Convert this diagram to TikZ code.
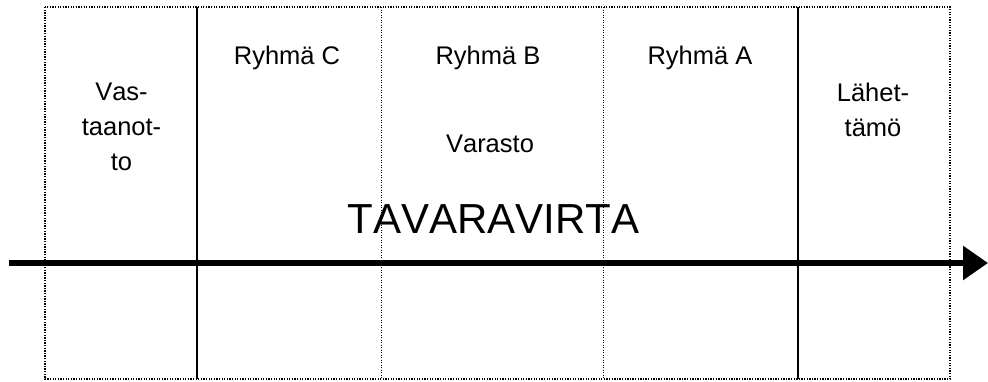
\documentclass[tikz,border=0pt]{standalone}
\usepackage{fontspec}
\setmainfont{Liberation Sans}[Kerning=Off]
\usetikzlibrary{arrows.meta}
\tikzset{
  frame/.style={line width=1.3pt, dash pattern=on 1.3pt off 1.3pt},
  divider/.style={line width=0.8pt, dash pattern=on 0.9pt off 1.6pt},
  wall/.style={line width=1.2pt},
  label/.style={font=\fontsize{25.5}{35}\selectfont, align=center, anchor=base, inner sep=0pt},
  flow/.style={line width=6pt, -{Triangle[length=25pt,width=33pt]}}
}
\begin{document}
\begin{tikzpicture}[x=1pt,y=-1pt]
\useasboundingbox (0,0) rectangle (988,381);
% outer frame and column borders
\draw[frame] (45,7) rectangle (950,379);
\draw[wall] (197,7) -- (197,379);
\draw[wall] (798,7) -- (798,379);
\draw[divider] (381.5,7) -- (381.5,379);
\draw[divider] (603,7) -- (603,379);
% column labels (base anchor = baseline of the last line)
\node[label] (vast) at (121.5,170) {Vas-\\taanot-\\to};
\node[label] (rc) at (287,64) {Ryhmä C};
\node[label] (rb) at (488,64) {Ryhmä B};
\node[label] (ra) at (700,64) {Ryhmä A};
\node[label] (var) at (490,152.5) {Varasto};
\node[label] (lah) at (873,136) {Lähet-\\tämö};
\node[inner sep=0pt, anchor=base, font=\fontsize{42}{48}\selectfont] (virta) at (493.5,233) {TAVARAVIRTA};
% flow arrow
\coordinate (fs) at (9,263);
\coordinate (fe) at (988,263);
\draw[flow] (fs) -- (fe);
\end{tikzpicture}
\end{document}
